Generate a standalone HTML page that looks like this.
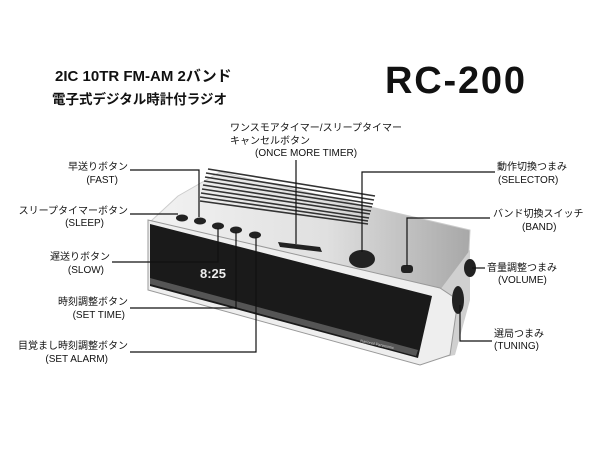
<!DOCTYPE html>
<html><head><meta charset="utf-8"><style>
html,body{margin:0;padding:0;background:#fff;}
svg{display:block;}
text{font-family:"Liberation Sans","Noto Sans CJK JP",sans-serif;fill:#111;}
</style></head><body>
<svg width="600" height="450" viewBox="0 0 600 450" xmlns="http://www.w3.org/2000/svg">
<defs>
<linearGradient id="top" x1="0" y1="0" x2="1" y2="0">
<stop offset="0" stop-color="#f2f2f2"/><stop offset="0.55" stop-color="#e0e0e0"/><stop offset="1" stop-color="#a8a8a8"/>
</linearGradient>
</defs>
<text x="55" y="81" font-size="15" font-weight="bold">2IC 10TR FM-AM 2バンド</text>
<text x="52" y="104" font-size="13.5" font-weight="bold">電子式デジタル時計付ラジオ</text>
<text x="385" y="93" font-size="38" font-weight="bold" textLength="140">RC-200</text>

<polygon points="178,196 220,172 470,230 468,270 440,290 150,222" fill="url(#top)" stroke="#ccc"/>
<g stroke="#333" stroke-width="1.6">
<line x1="208" y1="169" x2="375" y2="196"/>
<line x1="206" y1="173" x2="374" y2="200"/>
<line x1="205" y1="177" x2="373" y2="204"/>
<line x1="204" y1="181" x2="372" y2="207"/>
<line x1="203" y1="185" x2="371" y2="211"/>
<line x1="202" y1="189" x2="370" y2="214"/>
<line x1="201" y1="193" x2="369" y2="218"/>
<line x1="200" y1="197" x2="368" y2="221"/>
<line x1="200" y1="201" x2="368" y2="224"/>
</g>
<polygon points="440,290 470,250 470,300 455,355 430,360" fill="#d0d0d0"/>
<polygon points="148,220 440,288 458,300 450,355 420,365 148,290" fill="#eee" stroke="#999"/>
<polygon points="150,224 432,296 418,358 150,286" fill="#1a1a1a"/>
<polygon points="150,278 418,350 416,356 150,284" fill="#555"/>
<text x="200" y="278" font-size="13" style="fill:#eee" font-weight="bold">8:25</text>
<text x="360" y="342" font-size="4" style="fill:#ccc" transform="rotate(12 360 342)">National Panasonic</text>
<g fill="#222">
<ellipse cx="182" cy="218" rx="6" ry="3.5"/>
<ellipse cx="200" cy="221" rx="6" ry="3.5"/>
<ellipse cx="218" cy="226" rx="6" ry="3.5"/>
<ellipse cx="236" cy="230" rx="6" ry="3.5"/>
<ellipse cx="255" cy="235" rx="6" ry="3.5"/>
<polygon points="278,242 320,247 322,252 280,247" />
<ellipse cx="362" cy="259" rx="13" ry="9"/>
<rect x="401" y="265" width="12" height="8" rx="3"/>
<ellipse cx="470" cy="268" rx="6" ry="9"/>
<ellipse cx="458" cy="300" rx="6" ry="14"/>
</g>
<g stroke="#111" stroke-width="1.2" fill="none">
<polyline points="130,170 199,170 199,217"/>
<polyline points="130,214 178,214"/>
<polyline points="112,262 218,262 218,228"/>
<polyline points="130,308 236,308 236,232"/>
<polyline points="130,352 256,352 256,237"/>
<polyline points="296,160 296,244"/>
<polyline points="495,172 362,172 362,252"/>
<polyline points="490,218 407,218 407,266"/>
<polyline points="485,268 472,268"/>
<polyline points="492,341 460,341 460,305"/>
</g>
<g font-size="10" text-anchor="end">
<text x="128" y="170">早送りボタン</text>
<text x="118" y="183">(FAST)</text>
<text x="128" y="214">スリープタイマーボタン</text>
<text x="104" y="226">(SLEEP)</text>
<text x="110" y="260">遅送りボタン</text>
<text x="104" y="273">(SLOW)</text>
<text x="128" y="305">時刻調整ボタン</text>
<text x="125" y="318">(SET TIME)</text>
<text x="128" y="349">目覚まし時刻調整ボタン</text>
<text x="108" y="362">(SET ALARM)</text>
</g>
<g font-size="10">
<text x="230" y="131">ワンスモアタイマー/スリープタイマー</text>
<text x="230" y="144">キャンセルボタン</text>
<text x="255" y="156">(ONCE MORE TIMER)</text>
<text x="497" y="170">動作切換つまみ</text>
<text x="498" y="183">(SELECTOR)</text>
<text x="493" y="217">バンド切換スイッチ</text>
<text x="522" y="230">(BAND)</text>
<text x="487" y="271">音量調整つまみ</text>
<text x="498" y="283">(VOLUME)</text>
<text x="494" y="337">選局つまみ</text>
<text x="494" y="349">(TUNING)</text>
</g>
</svg>
</body></html>
